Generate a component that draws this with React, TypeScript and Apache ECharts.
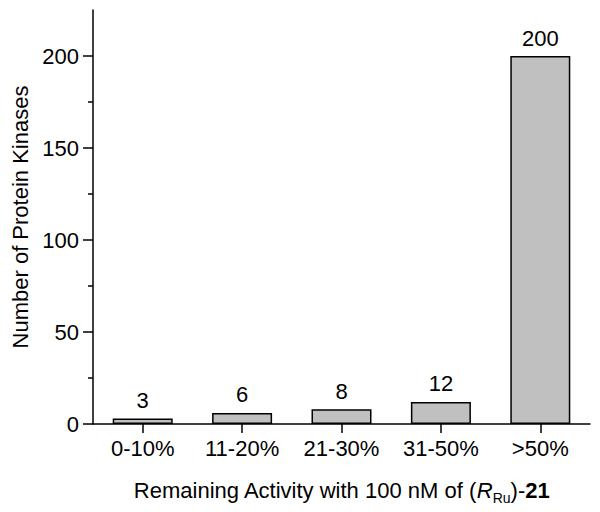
import React, { useEffect, useRef } from "react";
import * as echarts from "echarts";

const categories = ["0-10%", "11-20%", "21-30%", "31-50%", ">50%"];
const counts = [3, 6, 8, 12, 200];
const yMax = 225;
const yMajorTicks = [0, 50, 100, 150, 200];
const yMinorTicks = [25, 75, 125, 175];

const FONT = "'Liberation Sans', Arial, Helvetica, sans-serif";
const FS = 22;

export default function App() {
  const ref = useRef<HTMLDivElement>(null);
  useEffect(() => {
    if (!ref.current) return;
    const chart = echarts.init(ref.current, null, { renderer: "svg" });
    chart.setOption({
      animation: false,
      backgroundColor: "#ffffff",
      textStyle: { fontFamily: FONT },
      grid: { left: 93, right: 10, top: 10, bottom: 88, containLabel: false },
      xAxis: {
        type: "category",
        data: categories,
        boundaryGap: true,
        axisLine: { show: true, lineStyle: { color: "#000", width: 1.5 } },
        axisTick: { show: true, alignWithLabel: true, length: 9, lineStyle: { color: "#000", width: 1.5 } },
        axisLabel: { color: "#000", fontSize: FS, fontFamily: FONT, margin: 13 },
        name: "{n|Remaining Activity with 100 nM of (}{i|R}{s|Ru}{n|)-}{b|21}",
        nameLocation: "middle",
        nameGap: 51,
        nameTextStyle: {
          color: "#000",
          fontSize: FS,
          fontFamily: FONT,
          lineHeight: 30,
          rich: {
            n: { fontSize: FS, fontFamily: FONT, color: "#000", lineHeight: 30 },
            i: { fontSize: FS, fontFamily: FONT, color: "#000", fontStyle: "italic", lineHeight: 30 },
            s: { fontSize: 14, fontFamily: FONT, color: "#000", lineHeight: 14, verticalAlign: "bottom" },
            b: { fontSize: FS, fontFamily: FONT, color: "#000", fontWeight: "bold", lineHeight: 30 },
          },
        },
        splitLine: { show: false },
      },
      yAxis: [
        {
          type: "value",
          min: 0,
          max: yMax,
          axisLine: { show: true, lineStyle: { color: "#000", width: 1.5 } },
          axisTick: { show: true, length: 10, customValues: yMajorTicks, lineStyle: { color: "#000", width: 1.5 } },
          axisLabel: { color: "#000", fontSize: FS, fontFamily: FONT, margin: 14, customValues: yMajorTicks },
          splitLine: { show: false },
          name: "Number of Protein Kinases",
          nameLocation: "middle",
          nameGap: 61,
          nameTextStyle: { color: "#000", fontSize: FS, fontFamily: FONT },
        },
        {
          type: "value",
          position: "left",
          min: 0,
          max: yMax,
          axisLine: { show: false },
          axisTick: { show: true, length: 5, customValues: yMinorTicks, lineStyle: { color: "#000", width: 1.5 } },
          axisLabel: { show: false },
          splitLine: { show: false },
        },
      ],
      series: [
        {
          type: "bar",
          data: counts,
          yAxisIndex: 0,
          barWidth: 60,
          itemStyle: { color: "#c0c0c0", borderColor: "#000", borderWidth: 1.5 },
          label: {
            show: true,
            position: "top",
            distance: 7,
            color: "#000",
            fontSize: FS,
            fontFamily: FONT,
          },
        },
      ],
    });
    return () => chart.dispose();
  }, []);
  return <div ref={ref} style={{ width: 600, height: 512, margin: -8 }} />;
}
